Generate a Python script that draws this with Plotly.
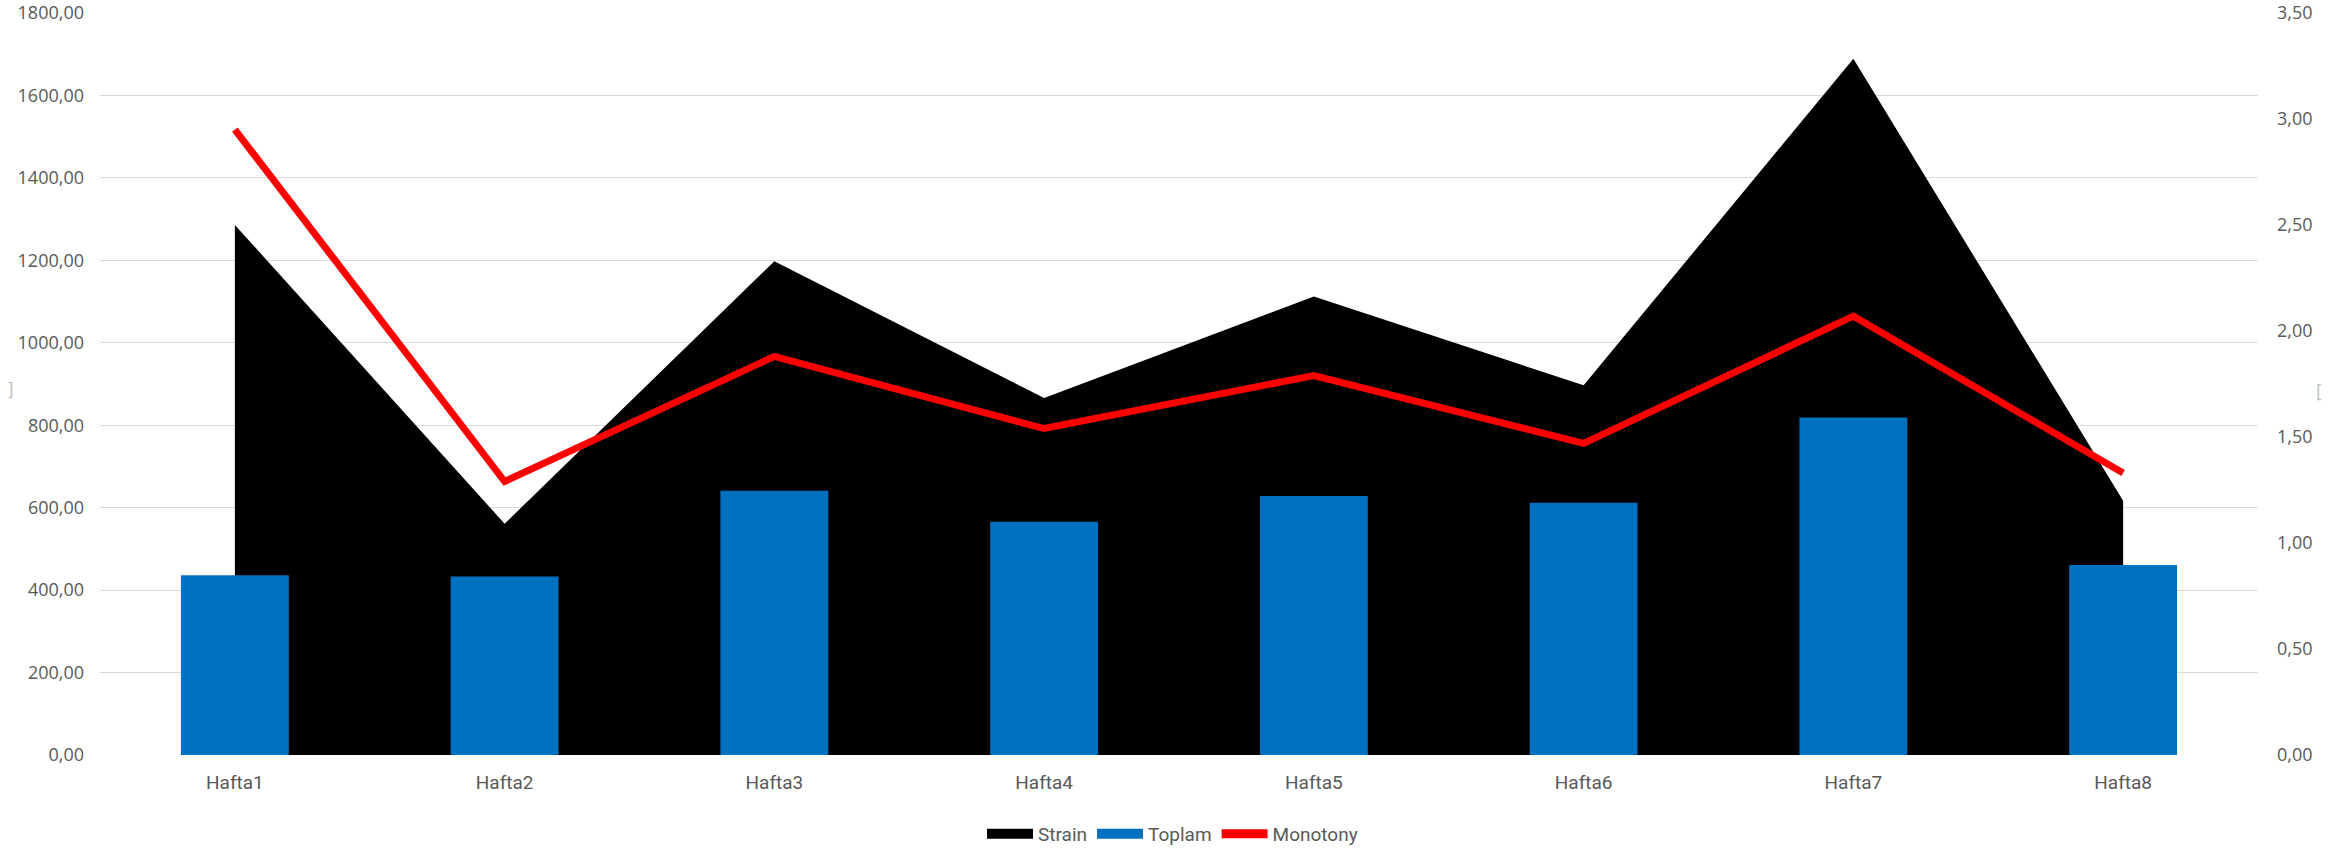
import plotly.graph_objects as go

# Weekly load summary
weeks = ["Hafta1", "Hafta2", "Hafta3", "Hafta4", "Hafta5", "Hafta6", "Hafta7", "Hafta8"]
strain = [1286, 561, 1198, 866, 1112, 897, 1689, 617]
toplam = [436, 433, 641, 566, 628, 612, 819, 461]
monotony = [2.95, 1.29, 1.88, 1.54, 1.79, 1.47, 2.07, 1.33]

left_ticks = [0, 200, 400, 600, 800, 1000, 1200, 1400, 1600, 1800]
right_ticks = [0, 0.5, 1.0, 1.5, 2.0, 2.5, 3.0, 3.5]

BLACK = "#000000"
BLUE = "#0070C0"
RED = "#FF0000"
GREY_TXT = "#595959"
GRID = "#D9D9D9"
NUM_FONT = dict(family="Open Sans", size=18, color=GREY_TXT)
CAT_FONT = dict(family="Roboto, sans-serif", size=19, color=GREY_TXT)

fig = go.Figure()

# Strain as a filled area on the left axis
fig.add_trace(go.Scatter(
    x=weeks, y=strain, name="Strain", mode="lines",
    line=dict(width=0, color=BLACK), fill="tozeroy", fillcolor=BLACK,
    yaxis="y", showlegend=False, hoverinfo="x+y",
))

# Toplam bars on an overlaid axis with the same scale, so they sit above the area
fig.add_trace(go.Bar(
    x=weeks, y=toplam, name="Toplam", marker=dict(color=BLUE, line=dict(width=0)),
    yaxis="y2", showlegend=False,
))

# Monotony line on the right axis
fig.add_trace(go.Scatter(
    x=weeks, y=monotony, name="Monotony", mode="lines",
    line=dict(width=7, color=RED), yaxis="y3", showlegend=False,
))

# Legend entries with wide swatches
for name, color, width in [("Strain", BLACK, 13), ("Toplam", BLUE, 13), ("Monotony", RED, 9)]:
    fig.add_trace(go.Scatter(
        x=[None], y=[None], name=name, mode="lines",
        line=dict(width=width, color=color), showlegend=True, yaxis="y",
    ))

fig.update_layout(
    width=2348, height=849,
    margin=dict(l=100, r=90, t=13, b=94, autoexpand=False),
    paper_bgcolor="white", plot_bgcolor="white",
    separators=", ",
    bargap=0.6,
    xaxis=dict(
        type="category", showgrid=False, showline=False, zeroline=False,
        tickfont=CAT_FONT, ticks="", ticklabelstandoff=14,
    ),
    yaxis=dict(
        range=[0, 1800], tickvals=left_ticks, tickformat=".2f",
        showgrid=True, gridcolor=GRID, gridwidth=1, zeroline=False, showline=False,
        tickfont=NUM_FONT, ticks="", ticklabelstandoff=15,
    ),
    yaxis2=dict(
        range=[0, 1800], overlaying="y", side="left", visible=False,
        showgrid=False, zeroline=False,
    ),
    yaxis3=dict(
        range=[0, 3.5], tickvals=right_ticks, tickformat=".2f",
        overlaying="y", side="right", showgrid=False, zeroline=False, showline=False,
        tickfont=NUM_FONT, ticks="", ticklabelstandoff=18,
    ),
    legend=dict(
        orientation="h", x=0.497, xanchor="center", y=-0.1065, yanchor="middle",
        font=dict(family="Roboto, sans-serif", size=19, color=GREY_TXT),
        itemwidth=46, tracegroupgap=0, bgcolor="rgba(0,0,0,0)",
    ),
    annotations=[
        dict(text="]", xref="paper", yref="paper", x=-0.044, y=0.492,
             showarrow=False, font=dict(family="DejaVu Sans", size=17, color="#BFBFBF")),
        dict(text="[", xref="paper", yref="paper", x=1.031, y=0.489,
             showarrow=False, font=dict(family="DejaVu Sans", size=17, color="#BFBFBF")),
    ],
)

fig.write_html("out.html")
